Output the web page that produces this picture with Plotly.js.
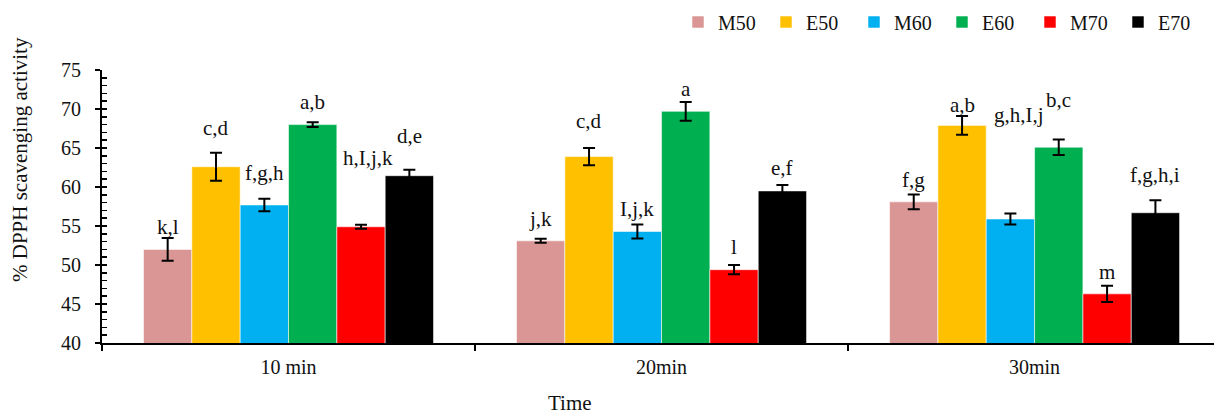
<!DOCTYPE html>
<html>
<head>
<meta charset="utf-8">
<script src="https://cdn.plot.ly/plotly-3.0.1.min.js"></script>
<style>html,body{margin:0;padding:0;background:#fff;overflow:hidden}#chart{width:1214px;height:416px}</style>
</head>
<body>
<div id="chart"></div>
<script>
// ---- data ----
const categories = ['10 min', '20min', '30min'];
const seriesNames = ['M50', 'E50', 'M60', 'E60', 'M70', 'E70'];

const M50 = [52.0, 53.1, 58.1];
const E50 = [62.6, 63.9, 67.9];
const M60 = [57.7, 54.3, 55.9];
const E60 = [68.0, 69.7, 65.1];
const M70 = [54.9, 49.4, 46.3];
const E70 = [61.45, 59.5, 56.7];

const M50_err = [1.45, 0.25, 0.95];
const E50_err = [1.8, 1.1, 1.2];
const M60_err = [0.8, 0.9, 0.7];
const E60_err = [0.3, 1.2, 1.0];
const M70_err = [0.25, 0.6, 1.05];
const E70_err = [0.75, 0.75, 1.6];

const M50_letters = ['k,l', 'j,k', 'f,g'];
const E50_letters = ['c,d', 'c,d', 'a,b'];
const M60_letters = ['f,g,h', 'I,j,k', 'g,h,I,j'];
const E60_letters = ['a,b', 'a', 'b,c'];
const M70_letters = ['h,I,j,k', 'l', 'm'];
const E70_letters = ['d,e', 'e,f', 'f,g,h,i'];

// ---- label placement (layout, in axis units) ----
const labelY = [
  [54.93, 55.88, 60.84],
  [67.56, 68.4, 70.55],
  [61.78, 57.2, 69.27],
  [70.85, 72.57, 71.2],
  [63.71, 52.36, 49.08],
  [66.5, 62.4, 61.57]
];
const labelShift = [
  [0, 0, 0], [0, 0, 0], [0, 0, 9], [0, 0, 0], [7, 0, 0], [0, 0, 0]
];

const values = [M50, E50, M60, E60, M70, E70];
const errors = [M50_err, E50_err, M60_err, E60_err, M70_err, E70_err];
const letters = [M50_letters, E50_letters, M60_letters, E60_letters, M70_letters, E70_letters];
const colors = ['#DA9694', '#FFC000', '#00B0F0', '#00B050', '#FF0000', '#000000'];

const FONT = '"Times New Roman", "Liberation Serif", "DejaVu Serif", serif';
const bargap = 0.2225;
const nS = seriesNames.length;
const bw = (1 - bargap) / nS;

const traces = seriesNames.map((name, i) => ({
  type: 'bar',
  name: name,
  x: categories,
  y: values[i],
  marker: {color: colors[i], line: {color: 'rgba(255,255,255,0.7)', width: 0.8}},
  error_y: {type: 'data', array: errors[i], visible: true, color: '#000', thickness: 2, width: 6}
}));

// inside minor ticks on an overlaying axis
traces.push({type: 'scatter', x: [categories[0]], y: [40], yaxis: 'y2', mode: 'markers',
  marker: {opacity: 0}, showlegend: false, hoverinfo: 'skip'});

const annotations = [];
seriesNames.forEach((name, i) => {
  categories.forEach((c, j) => {
    annotations.push({
      x: j + (i - (nS - 1) / 2) * bw, y: labelY[i][j], xref: 'x', yref: 'y',
      text: letters[i][j], showarrow: false, xanchor: 'center', yanchor: 'middle',
      xshift: labelShift[i][j],
      font: {family: FONT, size: 21, color: '#111'}
    });
  });
});
// plot area: x 102..1214, y 70..343
annotations.push({
  text: 'Time', xref: 'paper', yref: 'paper', x: (570 - 102) / 1112, y: (343 - 403) / 273,
  xanchor: 'center', yanchor: 'middle', showarrow: false,
  font: {family: FONT, size: 21, color: '#111'}
});
annotations.push({
  text: '% DPPH scavenging activity', xref: 'paper', yref: 'paper',
  x: (20 - 102) / 1112, y: (343 - 160) / 273, textangle: -90,
  xanchor: 'center', yanchor: 'middle', showarrow: false,
  font: {family: FONT, size: 21, color: '#111'}
});

const layout = {
  width: 1214, height: 416,
  margin: {l: 102, r: 0, t: 70, b: 73, pad: 0},
  paper_bgcolor: '#fff', plot_bgcolor: '#fff',
  barmode: 'group', bargap: bargap, bargroupgap: 0,
  font: {family: FONT, size: 20, color: '#111'},
  showlegend: true,
  legend: {
    orientation: 'h', xref: 'container', yref: 'container',
    x: 678 / 1214, y: 1 - 22 / 416, xanchor: 'left', yanchor: 'middle',
    entrywidth: 43, entrywidthmode: 'pixels',
    font: {family: FONT, size: 20, color: '#111'},
    traceorder: 'normal', itemclick: false
  },
  xaxis: {
    type: 'category', range: [-0.5, 2.481], fixedrange: true,
    showline: true, linecolor: '#000', linewidth: 1.5,
    ticks: 'outside', tickson: 'boundaries', ticklen: 6, tickwidth: 1.5, tickcolor: '#000',
    ticklabelstandoff: 5,
    tickfont: {family: FONT, size: 20, color: '#111'},
    showgrid: false, zeroline: false
  },
  yaxis: {
    range: [40, 75], dtick: 5, tick0: 40, fixedrange: true,
    showline: true, linecolor: '#000', linewidth: 2,
    ticks: 'outside', ticklen: 5, tickwidth: 1.5, tickcolor: '#000',
    ticklabelstandoff: 10,
    tickfont: {family: FONT, size: 20, color: '#111'},
    showgrid: false, zeroline: false
  },
  yaxis2: {
    overlaying: 'y', side: 'left', range: [40, 75], dtick: 1, tick0: 40,
    ticks: 'inside', ticklen: 5, tickwidth: 1.5, tickcolor: '#000',
    showticklabels: false, showline: false, showgrid: false, zeroline: false, fixedrange: true
  },
  annotations: annotations
};

Plotly.newPlot('chart', traces, layout, {staticPlot: true, displayModeBar: false});
</script>
</body>
</html>
